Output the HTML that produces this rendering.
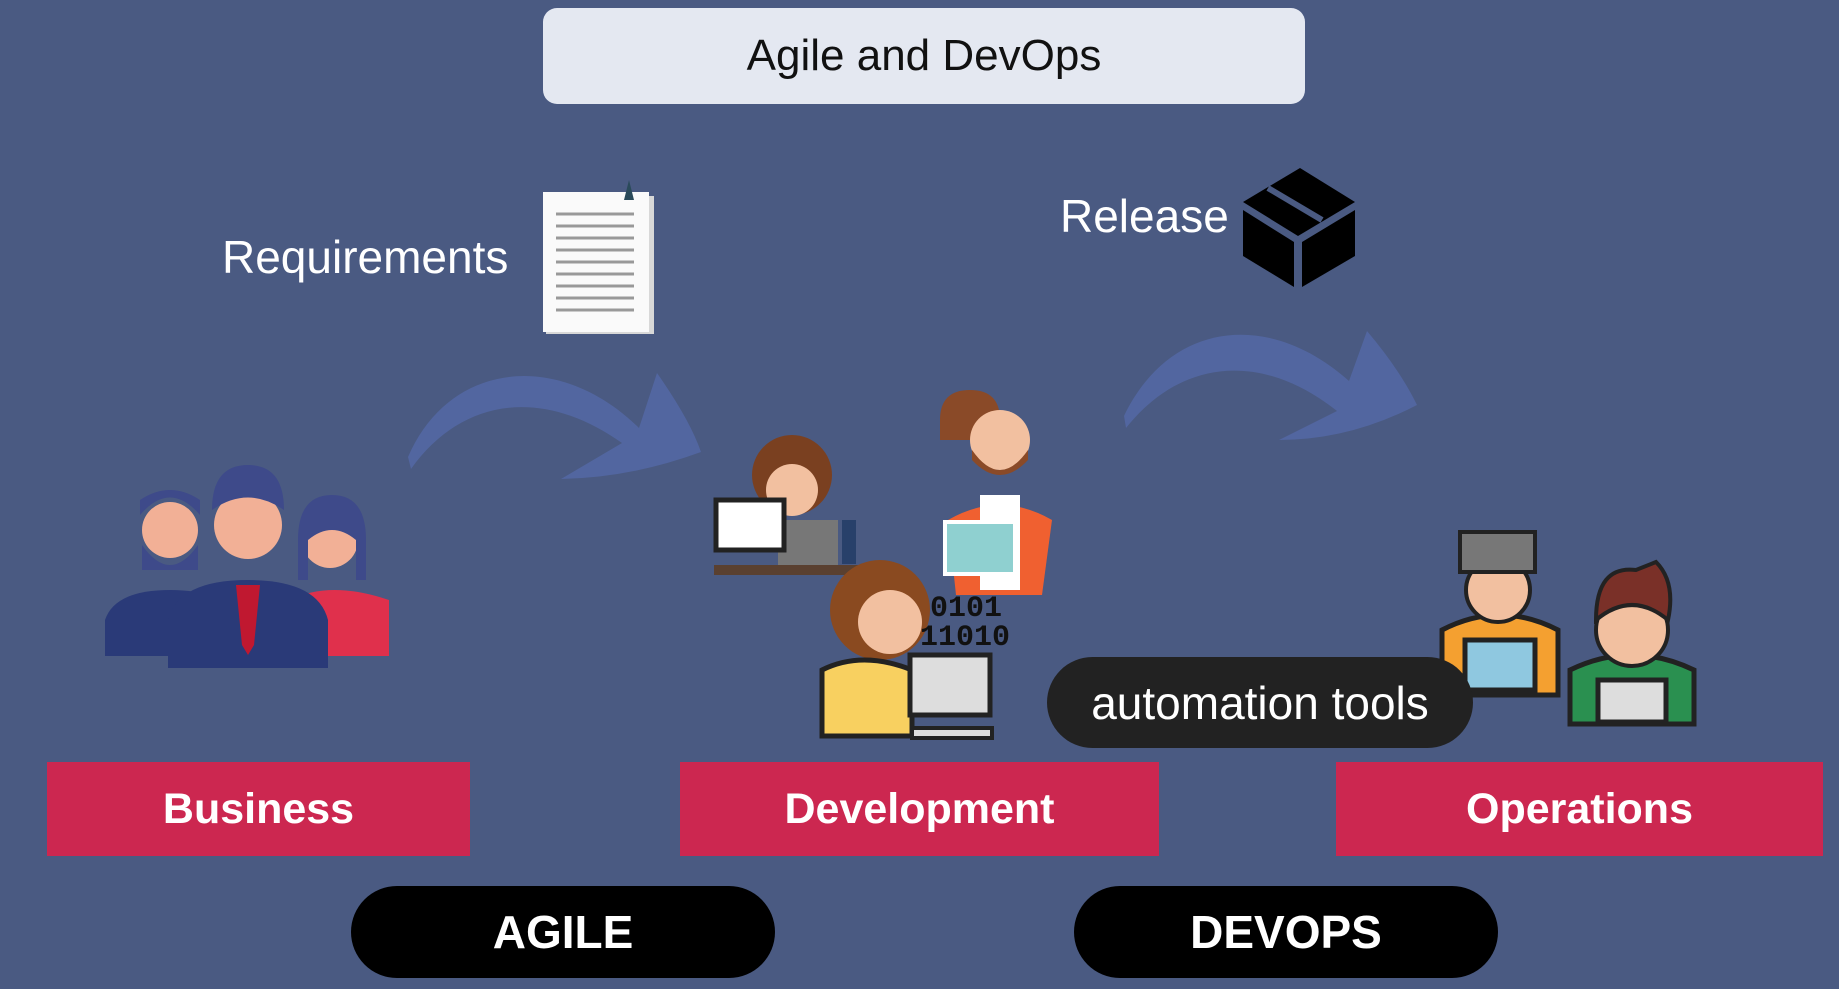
<!DOCTYPE html>
<html><head><meta charset="utf-8"><style>
html,body{margin:0;padding:0}
body{width:1839px;height:989px;background:#4a5a82;position:relative;overflow:hidden;font-family:"Liberation Sans",sans-serif}
.a{position:absolute}
.title{left:543px;top:8px;width:762px;height:96px;background:#e4e8f1;border-radius:14px;color:#111;font-size:44px;display:flex;align-items:center;justify-content:center}
.red{background:#cc2750;color:#fff;font-weight:bold;font-size:43px;display:flex;align-items:center;justify-content:center;top:762px;height:94px}
.pill{background:#000;color:#fff;font-weight:bold;font-size:46px;display:flex;align-items:center;justify-content:center;top:886px;height:92px;border-radius:46px}
.lbl{color:#fff;font-size:46px}
</style></head><body>
<div class="a title">Agile and DevOps</div>
<div class="a lbl" style="left:222px;top:230px">Requirements</div>
<div class="a lbl" style="left:1060px;top:189px">Release</div>

<svg class="a" style="left:0;top:0" width="1839" height="989">
  <!-- document -->
  <rect x="546" y="196" width="108" height="138" fill="#d8d8d8"/>
  <rect x="543" y="192" width="106" height="140" fill="#fafafa"/>
  <g stroke="#999" stroke-width="3">
    <line x1="556" y1="214" x2="634" y2="214"/><line x1="556" y1="226" x2="634" y2="226"/>
    <line x1="556" y1="238" x2="634" y2="238"/><line x1="556" y1="250" x2="634" y2="250"/>
    <line x1="556" y1="262" x2="634" y2="262"/><line x1="556" y1="274" x2="634" y2="274"/>
    <line x1="556" y1="286" x2="634" y2="286"/><line x1="556" y1="298" x2="634" y2="298"/>
    <line x1="556" y1="310" x2="634" y2="310"/>
  </g>
  <path d="M624 200 l5 -20 l5 20 z" fill="#2a4a5a"/>
  <!-- box -->
  <g fill="#000">
    <path d="M1243 202 L1300 168 L1355 202 L1298 236 Z"/>
    <path d="M1243 210 L1294 242 L1294 287 L1243 256 Z"/>
    <path d="M1302 242 L1355 210 L1355 256 L1302 287 Z"/>
  </g>
  <path d="M1268 188 L1322 220" stroke="#4a5a82" stroke-width="6"/>
  <!-- arrows -->
  <path d="M408 457 C450 360 560 350 639 428 L657 373 Q690 420 701 452 Q630 478 561 479 L622 443 C540 385 460 400 411 469 Z" fill="#5266a0"/>
  <path d="M1124 416 C1170 320 1270 310 1349 381 L1367 331 Q1400 370 1417 405 Q1350 440 1279 440 L1337 411 C1260 350 1180 360 1126 428 Z" fill="#5266a0"/>
  <!-- business people -->
  <g>
    <circle cx="170" cy="530" r="28" fill="#f2b096"/><path d="M140 515 q30 -35 60 0 v-15 q-30 -20 -60 0z" fill="#3e4a8a"/>
    <path d="M142 545 q28 40 56 0 v25 h-56z" fill="#3e4a8a"/>
    <circle cx="330" cy="540" r="28" fill="#f2b096"/><path d="M298 540 q0 -45 34 -45 q34 0 34 45 v40 h-10 v-40 q-24 -20 -48 0 v40 h-10z" fill="#3e4a8a"/>
    <path d="M290 600 q40 -20 99 0 v56 h-99z" fill="#e0304c"/>
    <path d="M105 620 q10 -30 65 -30 q55 0 65 30 v36 h-130z" fill="#2a3a78"/>
    <circle cx="248" cy="525" r="34" fill="#f2b096"/><path d="M212 510 q0 -45 36 -45 q36 0 36 45 q-36 -25 -72 0z" fill="#3e4a8a"/>
    <path d="M168 620 q10 -40 80 -40 q70 0 80 40 v48 h-160z" fill="#2a3a78"/>
    <path d="M236 585 h24 l-6 60 l-6 10 l-6 -10z" fill="#c01830"/>
  </g>
  <!-- dev people -->
  <g>
    <circle cx="792" cy="475" r="40" fill="#7a4020"/><circle cx="792" cy="490" r="26" fill="#f2c0a0"/>
    <rect x="778" y="520" width="60" height="50" fill="#777"/>
    <rect x="716" y="500" width="68" height="50" fill="#fff" stroke="#222" stroke-width="5"/>
    <rect x="714" y="565" width="150" height="10" fill="#5a4030"/>
    <rect x="842" y="520" width="14" height="44" fill="#28406a"/>
    <path d="M970 390 q30 0 30 30 v20 h-60 v-20 q0 -30 30 -30z" fill="#8a4a28"/><circle cx="1000" cy="440" r="30" fill="#f2c0a0"/>
    <path d="M972 450 q28 40 56 0 v10 q-28 30 -56 0z" fill="#8a4a28"/>
    <path d="M948 520 q52 -30 104 0 l-10 75 h-86z" fill="#f06030"/><rect x="980" y="495" width="40" height="95" fill="#fff"/>
    <rect x="945" y="522" width="70" height="52" fill="#8fd0d0" stroke="#fff" stroke-width="4"/>
    <circle cx="880" cy="610" r="50" fill="#8a4a20"/><circle cx="890" cy="622" r="32" fill="#f2c0a0"/>
    <path d="M822 670 q40 -20 90 0 v66 h-90z" fill="#f8d060" stroke="#222" stroke-width="5"/>
    <rect x="910" y="655" width="80" height="60" fill="#ddd" stroke="#222" stroke-width="5"/>
    <rect x="912" y="728" width="80" height="10" fill="#ddd" stroke="#222" stroke-width="4"/>
    <text x="930" y="616" font-family="Liberation Mono" font-weight="bold" font-size="30" fill="#111">0101</text>
    <text x="920" y="645" font-family="Liberation Mono" font-weight="bold" font-size="30" fill="#111">11010</text>
  </g>
  <!-- ops people -->
  <g>
    <path d="M1442 630 q58 -30 116 0 v65 h-116z" fill="#f4a030" stroke="#222" stroke-width="5"/>
    <circle cx="1498" cy="590" r="32" fill="#f2c0a0" stroke="#222" stroke-width="4"/>
    <path d="M1460 532 h75 v40 h-75z" fill="#777" stroke="#222" stroke-width="4"/>
    <rect x="1465" y="640" width="70" height="50" fill="#8fc8e0" stroke="#222" stroke-width="5"/>
    <path d="M1570 670 q62 -30 124 0 v54 h-124z" fill="#2a9050" stroke="#222" stroke-width="5"/>
    <circle cx="1632" cy="630" r="36" fill="#f2c0a0" stroke="#222" stroke-width="4"/>
    <path d="M1596 620 q0 -55 40 -50 l20 -8 q20 20 12 58 q-36 -30 -72 0z" fill="#7a3028" stroke="#222" stroke-width="4"/>
    <rect x="1598" y="680" width="68" height="42" fill="#ddd" stroke="#222" stroke-width="5"/>
  </g>
</svg>

<div class="a" style="left:1047px;top:657px;width:426px;height:91px;background:#222;border-radius:46px;color:#fff;font-size:46px;display:flex;align-items:center;justify-content:center">automation tools</div>

<div class="a red" style="left:47px;width:423px">Business</div>
<div class="a red" style="left:680px;width:479px">Development</div>
<div class="a red" style="left:1336px;width:487px">Operations</div>
<div class="a pill" style="left:351px;width:424px">AGILE</div>
<div class="a pill" style="left:1074px;width:424px">DEVOPS</div>
</body></html>
